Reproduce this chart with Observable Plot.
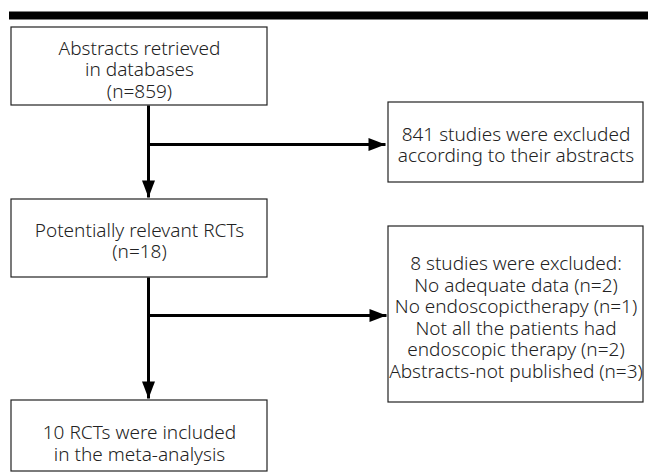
<!DOCTYPE html>
<html><head><meta charset="utf-8">
<script src="https://cdn.jsdelivr.net/npm/d3@7"></script>
<script src="https://cdn.jsdelivr.net/npm/@observablehq/plot@0.6"></script>
<style>body{margin:0;background:#fff}#chart{width:648px;height:476px}</style>
</head><body><div id="chart"></div>
<script>
// ---- content ----
const boxLabels = [
  "Abstracts retrieved\nin databases\n(n=859)",
  "841 studies were excluded\naccording to their abstracts",
  "Potentially relevant RCTs\n(n=18)",
  "8 studies were excluded:\nNo adequate data (n=2)\nNo endoscopictherapy (n=1)\nNot all the patients had\nendoscopic therapy (n=2)\nAbstracts-not published (n=3)",
  "10 RCTs were included\nin the meta-analysis"
];
const boxCounts = [859, 841, 18, 8, 10];

// ---- layout (diagram coordinates) ----
const boxLeft   = [11, 388, 11, 388, 11];
const boxRight  = [267, 643, 267, 643, 267];
const boxTop    = [27, 102, 199, 226, 400];
const boxBottom = [105, 182, 277, 402, 471];
const textY     = [69, 144, 240, 316.5, 442.5];

const spineX = 148;
const segFrom = [[spineX,105],[spineX,277],[spineX,144],[spineX,315]];
const segTo   = [[spineX,197],[spineX,398],[385,144],[386,315]];
const headRot = [180, 180, 90, 90];

const boxes = boxLabels.map((label,i)=>({label,n:boxCounts[i],x1:boxLeft[i],x2:boxRight[i],y1:boxTop[i],y2:boxBottom[i],ty:textY[i]}));
const segs = segFrom.map((f,i)=>({x1:f[0],y1:f[1],x2:segTo[i][0],y2:segTo[i][1],rot:headRot[i]}));

const arrowHead = {draw(ctx, size){ const w=6.5, l=17; ctx.moveTo(0,0); ctx.lineTo(-w,l); ctx.lineTo(w,l); ctx.closePath(); }};

const plot = Plot.plot({
  width: 648, height: 476,
  margin: 0,
  x: {domain:[0,648], range:[0,648], axis:null},
  y: {domain:[0,476], range:[0,476], axis:null},
  style: {background:"#fff"},
  marks: [
    Plot.ruleY([15], {x1: 9, x2: 648, stroke: "#000", strokeWidth: 8}),
    Plot.rect(boxes, {x1:"x1", x2:"x2", y1:"y1", y2:"y2", fill:"#fff", stroke:"#222", strokeWidth:1.2}),
    Plot.link(segs, {x1:"x1", y1:"y1", x2:"x2", y2:"y2", stroke:"#000", strokeWidth:3}),
    Plot.dot(segs, {x:"x2", y:"y2", rotate:"rot", symbol: arrowHead, fill:"#000", stroke:"none", r: 5}),
    Plot.text(boxes, {x: d=>(d.x1+d.x2)/2, y:"ty", text:"label", fontSize:19, fontWeight:300, fontFamily:"'Noto Sans', sans-serif", fill:"#222", lineHeight:1.13, textAnchor:"middle", lineAnchor:"middle"})
  ]
});
document.getElementById("chart").append(plot);
</script>
</body></html>
